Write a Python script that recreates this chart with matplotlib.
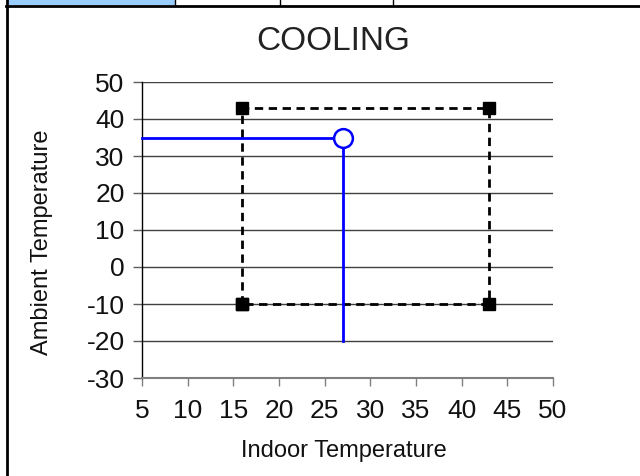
import matplotlib
matplotlib.use("Agg")
import matplotlib.pyplot as plt
from matplotlib.lines import Line2D
from matplotlib.patches import Rectangle

plt.rcParams['font.family'] = ['Liberation Sans', 'DejaVu Sans']

# ---- data ----
title = "COOLING"
x_label = "Indoor Temperature"
y_label = "Ambient Temperature"
x_ticks = [5, 10, 15, 20, 25, 30, 35, 40, 45, 50]
y_ticks = [-30, -20, -10, 0, 10, 20, 30, 40, 50]
envelope_x = [16, 16, 43, 43, 16]
envelope_y = [-10, 43, 43, -10, -10]
op_line_x = [5, 27, 27]
op_line_y = [35, 35, -20]
op_point_x = [27]
op_point_y = [35]

tick_size = 19

W, H = 640, 476
fig = plt.figure(figsize=(W / 100, H / 100), dpi=100)

ax = fig.add_axes([142 / W, 1 - 378 / H, (553 - 142) / W, (378 - 82) / H])
ax.set_xlim(x_ticks[0], x_ticks[-1])
ax.set_ylim(y_ticks[0], y_ticks[-1])
ax.set_xticks(x_ticks)
ax.set_yticks(y_ticks)
ax.set_xticklabels([str(v) for v in x_ticks], fontsize=tick_size,
                   color='#111111')
ax.set_yticklabels([str(v) for v in y_ticks], fontsize=tick_size,
                   color='#111111')

for s in ['top', 'right']:
    ax.spines[s].set_visible(False)
ax.spines['left'].set_color('black')
ax.spines['left'].set_linewidth(1.0)
ax.spines['bottom'].set_color('#808080')
ax.spines['bottom'].set_linewidth(1.5)

ax.yaxis.grid(True, color='#404040', linewidth=1.0)
ax.set_axisbelow(True)
ax.tick_params(axis='y', length=6.5, width=1.0, color='#606060', pad=6)
ax.tick_params(axis='x', length=6, width=1.0, color='#808080', pad=9)

# envelope
ax.plot(envelope_x, envelope_y, color='black', linestyle=(0, (3, 2)),
        linewidth=2, marker='s', markersize=9, markerfacecolor='black',
        markeredgecolor='black', zorder=3, clip_on=False)
# operating point
ax.plot(op_line_x, op_line_y, color='#0000FF', linewidth=2, zorder=4,
        clip_on=False)
ax.plot(op_point_x, op_point_y, linestyle='none', marker='o', markersize=13.5,
        markerfacecolor='white', markeredgecolor='#0000FF',
        markeredgewidth=1.8, zorder=5, clip_on=False)

# texts
fig.text(333 / W, 1 - 41 / H, title, ha='center', va='center',
         fontsize=24, color='#222222')
fig.text(344 / W, 1 - 451 / H, x_label, ha='center', va='center',
         fontsize=17, color='#111111')
fig.text(42 / W, 1 - 242 / H, y_label, ha='center', va='center',
         rotation=90, fontsize=17, color='#111111')

# frame / header overlay
ov = fig.add_axes([0, 0, 1, 1], zorder=10)
ov.set_xlim(0, W)
ov.set_ylim(H, 0)
ov.axis('off')
ov.patch.set_alpha(0)
ov.add_patch(Rectangle((7, 0), 168, 5, facecolor='#99CCFF', edgecolor='none'))
ov.add_line(Line2D([6, W], [5.5, 5.5], color='black', linewidth=2))
ov.add_line(Line2D([6.5, 6.5], [0, H], color='black', linewidth=2))
for xv in [175, 280, 393]:
    ov.add_line(Line2D([xv, xv], [0, 5], color='black', linewidth=1))

fig.savefig('out.png', dpi=100)
